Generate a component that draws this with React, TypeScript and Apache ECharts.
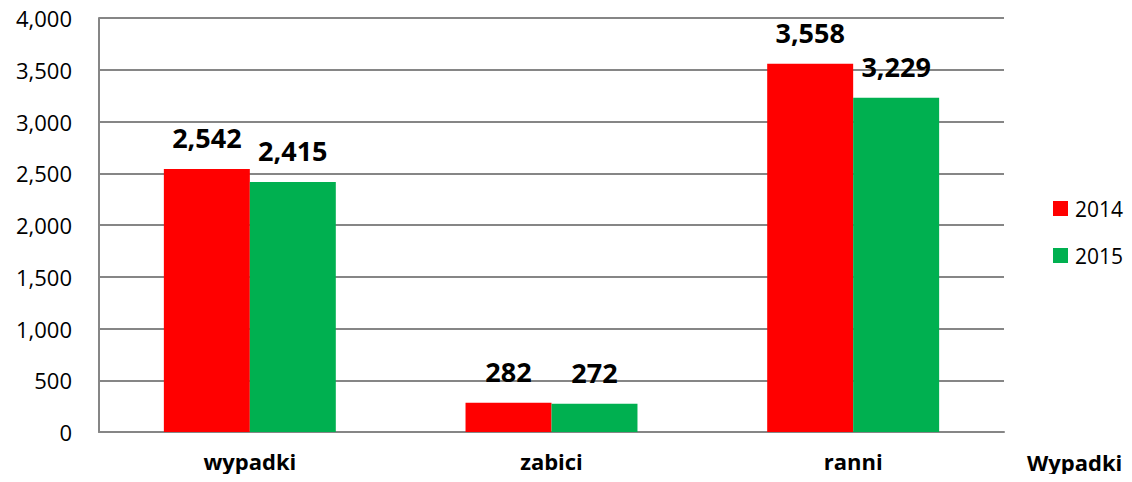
import React, { useEffect, useRef } from "react";
import * as echarts from "echarts";

const categories = ["wypadki", "zabici", "ranni"];
const series2014 = [2542, 282, 3558];
const series2015 = [2415, 272, 3229];
const yTicks = { min: 0, max: 4000, interval: 500 };
const axisTitle = "Wypadki";

const fmt = (v: number) => v.toLocaleString("en-US");
const FONT = "'Open Sans', 'Noto Sans', sans-serif";

export default function App() {
  const ref = useRef<HTMLDivElement>(null);
  useEffect(() => {
    if (!ref.current) return;
    const chart = echarts.init(ref.current, null, { renderer: "svg" });
    const label = {
      show: true,
      position: "top" as const,
      distance: 18,
      fontSize: 27,
      fontWeight: "bold" as const,
      color: "#000",
      fontFamily: FONT,
      formatter: (p: any) => fmt(p.value),
    };
    chart.setOption({
      animation: false,
      textStyle: { fontFamily: FONT },
      grid: { left: 99, right: 128, top: 18, bottom: 50, containLabel: false },
      legend: {
        orient: "vertical",
        left: 1053,
        top: 198,
        padding: 0,
        itemWidth: 15,
        itemHeight: 15,
        itemGap: 26,
        icon: "rect",
        textStyle: {
          fontSize: 21,
          color: "#000",
          fontFamily: FONT,
          padding: [0, 0, 0, 2],
          width: 60,
          overflow: "none",
        },
        data: ["2014", "2015"],
      },
      xAxis: {
        type: "category",
        data: categories,
        axisLine: { lineStyle: { color: "#868686", width: 2 } },
        axisTick: { show: false },
        axisLabel: {
          margin: 18,
          fontSize: 22,
          fontWeight: "bold",
          color: "#000",
          fontFamily: FONT,
        },
      },
      yAxis: {
        type: "value",
        min: yTicks.min,
        max: yTicks.max,
        interval: yTicks.interval,
        axisLine: { show: true, lineStyle: { color: "#868686", width: 2 } },
        axisTick: { show: false },
        splitLine: { lineStyle: { color: "#868686", width: 2 } },
        axisLabel: {
          margin: 27,
          fontSize: 22,
          color: "#000",
          fontFamily: FONT,
          formatter: (v: number) => fmt(v),
        },
      },
      graphic: [
        {
          type: "text",
          left: 1027,
          top: 451,
          style: {
            text: axisTitle,
            fontSize: 22,
            fontWeight: "bold",
            fill: "#000",
            fontFamily: FONT,
          },
        },
      ],
      series: [
        {
          name: "2014",
          type: "bar",
          data: series2014,
          itemStyle: { color: "#ff0000" },
          barGap: "0%",
          barCategoryGap: "43%",
          label,
        },
        {
          name: "2015",
          type: "bar",
          data: series2015,
          itemStyle: { color: "#00b050" },
          label,
        },
      ],
    });
    return () => chart.dispose();
  }, []);
  return <div ref={ref} style={{ width: 1132, height: 482, margin: -8 }} />;
}
